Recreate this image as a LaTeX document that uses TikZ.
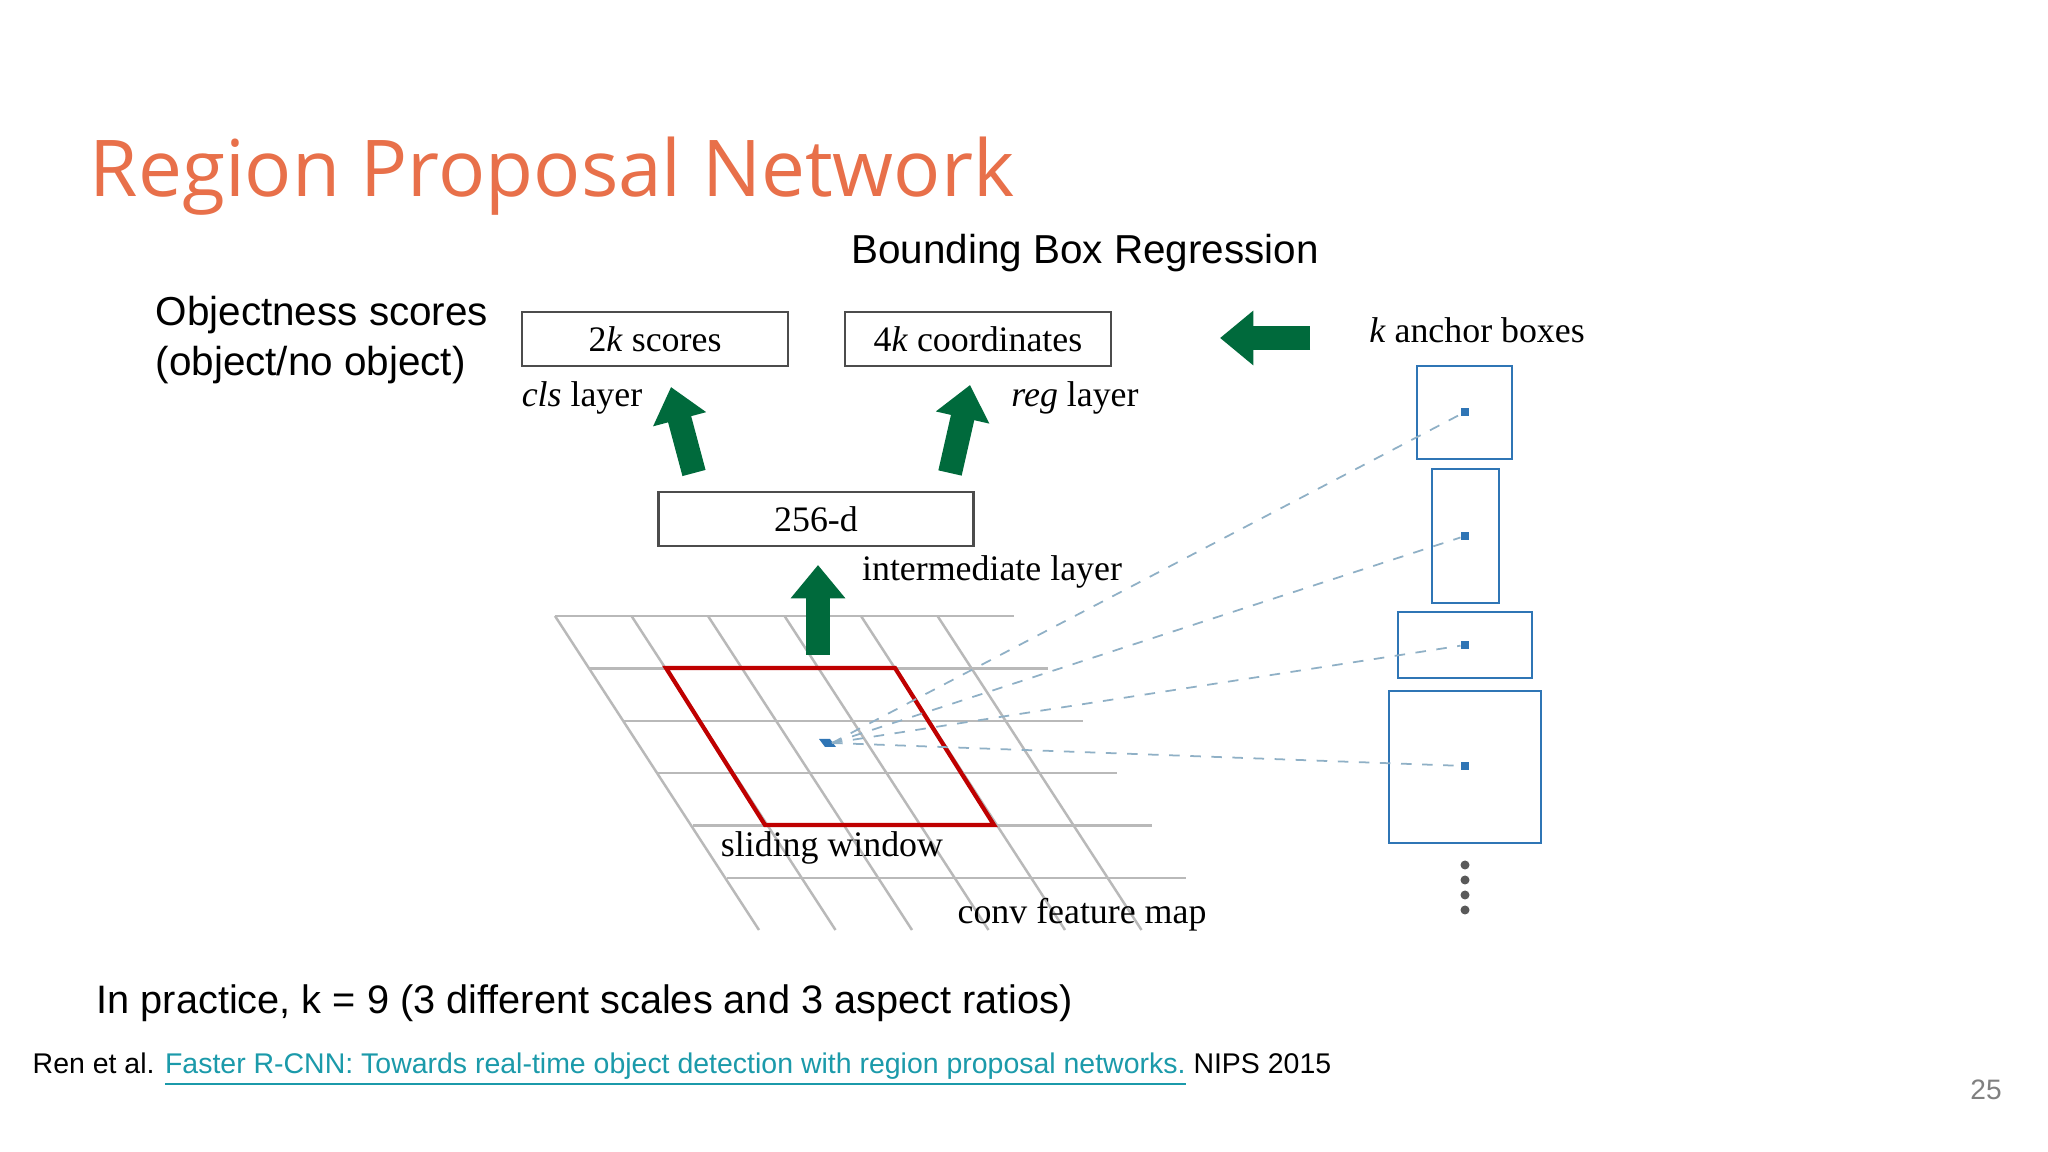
\documentclass[tikz,border=0pt]{standalone}
\usepackage{fontspec}
\setmainfont{Liberation Serif}
\newfontfamily\sansf{Liberation Sans}
\newfontfamily\titlef{Open Sans}
\usetikzlibrary{arrows.meta}
\definecolor{titleorange}{HTML}{E8704A}
\definecolor{fatgreen}{HTML}{006A3C}
\definecolor{anchorblue}{HTML}{2F75B5}
\definecolor{dashblue}{HTML}{8FB0C6}
\definecolor{linkteal}{HTML}{1B9AAA}
\tikzset{
  layerbox/.style={draw=gray!60!black, line width=.7pt, minimum width=2.66cm, minimum height=.54cm, font=\fontsize{10.2}{12}\selectfont},
  serifl/.style={font=\fontsize{10.2}{12}\selectfont},
  sansl/.style={font=\sansf\fontsize{11.5}{14}\selectfont, align=left},
  fat/.style={fatgreen, line width=6.8pt, -{Triangle[width=15pt,length=9.5pt]}},
  gridl/.style={gray!55, line width=.7pt},
  anchorbox/.style={draw=anchorblue, line width=.7pt}
}
\begin{document}
\begin{tikzpicture}[x=0.1mm, y=-0.1mm]
\useasboundingbox[fill=white] (0,0) rectangle (2048,1152);
% title and captions
\node[anchor=base west, inner sep=0, text=titleorange, font=\titlef\fontsize{22.3}{26}\selectfont] (title) at (89,197) {Region Proposal Network};
\node[sansl] (bbr) at (1085,253) {Bounding Box Regression};
\node[sansl, anchor=north west, inner sep=0] (obj) at (155,296) {Objectness scores\\(object/no object)};
\node[anchor=base west, inner sep=0, font=\sansf\fontsize{11.3}{14}\selectfont] (practice) at (96,1014) {In practice, k = 9 (3 different scales and 3 aspect ratios)};
\node[anchor=base west, inner sep=0, font=\sansf\fontsize{8.1}{10}\selectfont] (cite) at (32,1073) {Ren et al. \textcolor{linkteal}{\underline{Faster R-CNN: Towards real-time object detection with region proposal networks.}} NIPS 2015};
\node[text=gray, font=\sansf\fontsize{8}{10}\selectfont] (page) at (1986,1090) {25};
% grid
\foreach \i in {0,...,5} {
  \draw[gridl] ({555+34.4*\i},{616+52.4*\i}) -- ++(459,0);
  \draw[gridl] ({555+76.5*\i},616) -- ++(204,314);
}
\draw[red!75!black, line width=1.2pt, line join=miter] (666,668) -- (895,668) -- (994,825) -- (765,825) -- cycle;
\node[serifl] (slide) at (832,848) {sliding window};
\node[serifl] (conv) at (1082,915) {conv feature map};
% layers
\node[layerbox] (cls) at (655,339) {2\textit{k} scores};
\node[layerbox] (reg) at (978,339) {4\textit{k} coordinates};
\node[layerbox, minimum width=3.15cm] (mid) at (816,519) {256-d};
\node[serifl] (clsl) at (582,398) {\textit{cls} layer};
\node[serifl] (regl) at (1075,398) {\textit{reg} layer};
\node[serifl] (midl) at (992,572) {intermediate layer};
\coordinate (c1) at (694,473); \coordinate (c2) at (671,387);
\coordinate (r1) at (950,473); \coordinate (r2) at (970,385);
\coordinate (m1) at (818,655); \coordinate (m2) at (818,565);
\coordinate (k1) at (1310,338); \coordinate (k2) at (1220,338);
\draw[fat] (c1) -- (c2);
\draw[fat] (r1) -- (r2);
\draw[fat] (m1) -- (m2);
\draw[fat] (k1) -- (k2);
% anchors
\node[serifl] (anch) at (1477,330) {\textit{k} anchor boxes};
\draw[anchorbox] (1417,366) rectangle (1512,459);
\draw[anchorbox] (1432,469) rectangle (1499,603);
\draw[anchorbox] (1398,612) rectangle (1532,678);
\draw[anchorbox] (1389,691) rectangle (1541,843);
\fill[anchorblue] (819,739) -- (830,739) -- (836,747) -- (825,747) -- cycle;
\coordinate (ctr) at (832,743);
\foreach \n/\y in {a/412, b/536, c/645, d/766} {
  \node[fill=anchorblue, inner sep=0, minimum size=2.2pt] (dot\n) at (1465,\y) {};
  \draw[dashblue, dashed, line width=.5pt] (ctr) -- (dot\n);
}
\foreach \y in {865,880,895,910}
  \fill[gray!70!black] (1465,\y) circle (4.5);
\end{tikzpicture}
\end{document}
